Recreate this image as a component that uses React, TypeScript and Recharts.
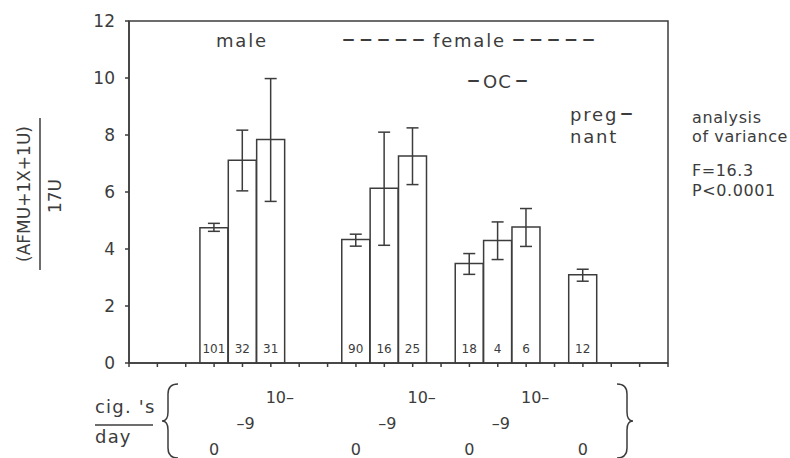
import { ComposedChart, Bar, ErrorBar, XAxis, YAxis, ReferenceArea, LabelList } from 'recharts'

// bar positions on the 0..19 x scale
const positions = [3, 4, 5, 8, 9, 10, 12, 13, 14, 16]
const means = [4.75, 7.11, 7.84, 4.33, 6.13, 7.26, 3.49, 4.3, 4.77, 3.1]
const lows = [4.62, 6.04, 5.67, 4.1, 4.13, 6.26, 3.11, 3.63, 4.09, 2.87]
const highs = [4.9, 8.17, 9.98, 4.52, 8.1, 8.25, 3.84, 4.95, 5.42, 3.29]
const counts = ['101', '32', '31', '90', '16', '25', '18', '4', '6', '12']
const doseLabels = ['0', '–9', '10–', '0', '–9', '10–', '0', '–9', '10–', '0']

const xTicks = Array.from({ length: 20 }, (_, i) => i)
const yTicks = [0, 2, 4, 6, 8, 10, 12]

const data = positions.map((pos, i) => ({
    pos,
    mean: means[i],
    err: [means[i] - lows[i], highs[i] - means[i]],
    n: counts[i],
    dose: doseLabels[i],
}))

const INK = '#3c3c3c'
const FONT = '"DejaVu Sans", sans-serif'

// dose labels are stacked in three rows under the axis
const DoseTick = ({ x, y, payload }: { x?: number; y?: number; payload?: { value: number } }) => {
    const idx = positions.indexOf(payload?.value as number)
    if (idx < 0) return null
    const label = doseLabels[idx]
    let dy = 88
    let dx = 0
    if (label === '–9') { dy = 62; dx = 3 }
    if (label === '10–') { dy = 36; dx = 9 }
    return (
        <text x={Number(x) + dx} y={Number(y) + dy} textAnchor="middle" fontSize={16} fontFamily={FONT} fill={INK}>
            {label}
        </text>
    )
}

// sample size written at the foot of each bar
const CountLabel = (props: any) => {
    const { x, y, width, height, value } = props
    const cx = Number(x) + Number(width) / 2
    const bottom = Number(y) + Number(height)
    return (
        <text x={cx} y={bottom - 10} textAnchor="middle" fontSize={12} fontFamily={FONT} fill={INK}>
            {value}
        </text>
    )
}

export default function App() {
    return (
        <div style={{ position: 'absolute', left: 0, top: 0, width: 790, height: 458, background: '#fff' }}>
            <ComposedChart
                width={790}
                height={458}
                data={data}
                margin={{ top: 21, right: 122, bottom: 0, left: 0 }}
            >
                <XAxis
                    dataKey="pos"
                    type="number"
                    domain={[0, 19]}
                    ticks={xTicks}
                    interval={0}
                    height={95}
                    tickSize={4}
                    tickMargin={0}
                    stroke={INK}
                    strokeWidth={1.5}
                    tick={<DoseTick />}
                />
                <YAxis
                    type="number"
                    domain={[0, 12]}
                    ticks={yTicks}
                    width={129}
                    tickSize={4}
                    tickMargin={10}
                    stroke={INK}
                    strokeWidth={1.5}
                    tick={{ fontSize: 17, fontFamily: FONT, fill: INK }}
                />
                <ReferenceArea x1={0} x2={19} y1={0} y2={12} fill="none" stroke={INK} strokeWidth={1.5} />
                <Bar dataKey="mean" barSize={28} fill="#fff" stroke={INK} strokeWidth={1.5} isAnimationActive={false}>
                    <ErrorBar dataKey="err" width={6} stroke={INK} strokeWidth={1.5} direction="y" />
                    <LabelList dataKey="n" content={<CountLabel />} />
                </Bar>
            </ComposedChart>
            <svg
                width={790}
                height={458}
                style={{ position: 'absolute', left: 0, top: 0, pointerEvents: 'none' }}
                fontFamily={FONT}
                fill={INK}
            >
                {/* y axis label as a fraction */}
                <text transform="translate(30,194) rotate(-90)" textAnchor="middle" fontSize={17}>(AFMU+1X+1U)</text>
                <line x1={40} y1={118} x2={40} y2={270} stroke={INK} strokeWidth={1.5} />
                <text transform="translate(61,196) rotate(-90)" textAnchor="middle" fontSize={17}>17U</text>

                {/* group headings */}
                <text x={216} y={47} fontSize={18} letterSpacing={1.8}>male</text>
                <text y={47} fontSize={18}>
                    <tspan x={342} fontSize={26} letterSpacing={4.5}>–––––</tspan>
                    <tspan x={433} letterSpacing={1.8}>female</tspan>
                    <tspan x={512} fontSize={26} letterSpacing={4.5}>–––––</tspan>
                </text>
                <text y={88} fontSize={18}>
                    <tspan x={467} fontSize={26}>–</tspan>
                    <tspan x={483} letterSpacing={1}>OC</tspan>
                    <tspan x={515} fontSize={26}>–</tspan>
                </text>
                <text y={121} fontSize={18}>
                    <tspan x={570} letterSpacing={1.8}>preg</tspan>
                    <tspan x={620} fontSize={26}>–</tspan>
                </text>
                <text x={570} y={143} fontSize={18} letterSpacing={1.8}>nant</text>

                {/* statistics */}
                <text x={692} y={123} fontSize={16} letterSpacing={0.6}>analysis</text>
                <text x={692} y={142} fontSize={16} letterSpacing={0.6}>of variance</text>
                <text x={692} y={176} fontSize={16} letterSpacing={0.6}>F=16.3</text>
                <text x={692} y={196} fontSize={16} letterSpacing={0.6}>P&lt;0.0001</text>

                {/* cig.'s / day */}
                <text x={95} y={413} fontSize={18} letterSpacing={1.2}>cig. 's</text>
                <line x1={95} y1={425} x2={153} y2={425} stroke={INK} strokeWidth={1.5} />
                <text x={95} y={443} fontSize={18} letterSpacing={1.2}>day</text>
                <path
                    d="M178,384 Q168,384 168,394 L168,412 Q168,421 162,421 Q168,421 168,430 L168,448 Q168,458 178,458"
                    fill="none"
                    stroke={INK}
                    strokeWidth={1.5}
                />
                <path
                    d="M617,384 Q627,384 627,394 L627,412 Q627,421 633,421 Q627,421 627,430 L627,448 Q627,458 617,458"
                    fill="none"
                    stroke={INK}
                    strokeWidth={1.5}
                />
            </svg>
        </div>
    )
}
